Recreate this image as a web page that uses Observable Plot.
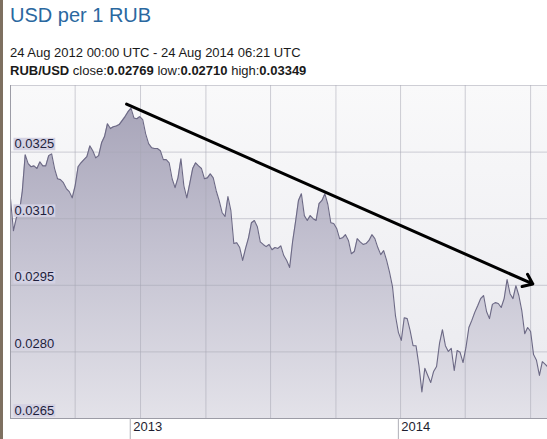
<!DOCTYPE html>
<html><head><meta charset="utf-8">
<script src="https://cdn.jsdelivr.net/npm/d3@7"></script>
<script src="https://cdn.jsdelivr.net/npm/@observablehq/plot@0.6"></script>
<style>
html,body{margin:0;padding:0;background:#fff;width:547px;height:439px;overflow:hidden;font-family:"Liberation Sans",Arial,sans-serif;}
#strip{position:absolute;left:0;top:0;width:3px;height:439px;background:#7e7060;}
#title{position:absolute;left:10px;top:4.6px;font-size:20px;line-height:20px;color:#2a68a0;white-space:nowrap;}
.sub{position:absolute;left:10px;font-size:13px;line-height:13px;color:#1a1a1a;white-space:nowrap;}
#chart{position:absolute;left:0;top:80px;width:547px;height:359px;}
</style></head><body>
<div id="strip"></div>
<div id="title">USD per 1 RUB</div>
<div class="sub" style="top:46px">24 Aug 2012 00:00 UTC - 24 Aug 2014 06:21 UTC</div>
<div class="sub" style="top:64px"><b>RUB/USD</b> close:<b>0.02769</b> low:<b>0.02710</b> high:<b>0.03349</b></div>
<div id="chart"></div>
<script>
// Series: RUB/USD rate, sampled every 4 days starting at startDate
const startDate = "2012-07-22";
const stepDays = 4;
const rate = [
0.03145,0.03073,0.03102,0.03114,0.03161,0.03244,0.03224,0.03217,0.03219,0.03213,
0.03228,0.03219,0.03219,0.03242,0.03246,0.03213,0.03190,0.03188,0.03181,0.03168,
0.03161,0.03147,0.03174,0.03217,0.03226,0.03233,0.03240,0.03264,0.03253,0.03237,
0.03242,0.03271,0.03285,0.03314,0.03303,0.03307,0.03309,0.03312,0.03321,0.03330,
0.03341,0.03349,0.03327,0.03325,0.03330,0.03323,0.03291,0.03269,0.03260,0.03258,
0.03258,0.03253,0.03233,0.03233,0.03226,0.03190,0.03170,0.03192,0.03235,0.03174,
0.03147,0.03179,0.03213,0.03226,0.03219,0.03213,0.03190,0.03192,0.03201,0.03192,
0.03163,0.03141,0.03114,0.03105,0.03150,0.03118,0.03044,0.03046,0.03035,0.03006,
0.03033,0.03057,0.03091,0.03096,0.03082,0.03048,0.03042,0.03037,0.03042,0.03030,
0.03035,0.03033,0.03039,0.03017,0.03006,0.02990,0.03048,0.03093,0.03141,0.03156,
0.03107,0.03096,0.03107,0.03100,0.03096,0.03134,0.03141,0.03156,0.03132,0.03091,
0.03089,0.03078,0.03055,0.03057,0.03064,0.03051,0.03021,0.03026,0.03055,0.03048,
0.03042,0.03044,0.03051,0.03064,0.03055,0.03035,0.03019,0.03028,0.03006,0.02979,
0.02947,0.02882,0.02844,0.02826,0.02877,0.02875,0.02848,0.02814,0.02814,0.02769,
0.02710,0.02763,0.02747,0.02731,0.02756,0.02767,0.02819,0.02850,0.02814,0.02801,
0.02808,0.02758,0.02803,0.02799,0.02776,0.02810,0.02855,0.02871,0.02889,0.02904,
0.02920,0.02927,0.02891,0.02875,0.02907,0.02911,0.02909,0.02900,0.02920,0.02963,
0.02931,0.02920,0.02949,0.02927,0.02893,0.02841,0.02855,0.02846,0.02794,0.02781,
0.02747,0.02778,0.02772,0.02765
];
const xDomain = ["2012-07-22", "2014-07-23"];
const yDomain = [0.0265, 0.0340];
const yLabelTicks = [0.0265, 0.0280, 0.0295, 0.0310, 0.0325];
const yGridTicks = [0.0280, 0.0295, 0.0310, 0.0325, 0.0340];
const xGridDates = ["2012-10-18","2013-01-15","2013-04-14","2013-07-11","2013-10-08","2014-01-04","2014-04-02","2014-06-30"];
const yearTicks = ["2013-01-01", "2014-01-01"];
const yearLabels = ["2013", "2014"];
const trendArrow = [{x1: "2012-12-27", y1: 0.03358, x2: "2014-07-03", y2: 0.02953}];

const parse = s => new Date(s + "T00:00:00Z");
const data = rate.map((v, i) => ({date: d3.utcDay.offset(parse(startDate), i * stepDays), rate: v}));
const years = yearTicks.map((d, i) => ({date: parse(d), label: yearLabels[i]}));
const arrows = trendArrow.map(a => ({x1: parse(a.x1), y1: a.y1, x2: parse(a.x2), y2: a.y2}));

const plot = Plot.plot({
  width: 547, height: 359,
  marginLeft: 10, marginRight: 0, marginTop: 5, marginBottom: 21,
  x: {type: "utc", domain: xDomain.map(parse), axis: null},
  y: {domain: yDomain, axis: null},
  style: {background: "transparent", fontFamily: "'Liberation Sans', Arial, sans-serif", fontSize: "13px", overflow: "hidden"},
  marks: [
    Plot.frame({fill: "url(#bgGrad)", stroke: "none"}),
    Plot.areaY(data, {x: "date", y1: yDomain[0], y2: "rate", fill: "url(#areaGrad)"}),
    Plot.ruleX(xGridDates.map(parse), {stroke: "#a8a8b4", strokeOpacity: 0.55}),
    Plot.ruleY(yGridTicks, {stroke: "#a8a8b4", strokeOpacity: 0.55}),
    Plot.lineY(data, {x: "date", y: "rate", stroke: "#6c6985", strokeWidth: 1.1}),
    Plot.ruleX([parse(xDomain[0])], {stroke: "#9c9ca6"}),
    Plot.ruleY([yDomain[0]], {stroke: "#9c9ca6"}),
    Plot.ruleX(years, {x: "date", y1: yDomain[0], y2: yDomain[0], insetBottom: -21, stroke: "#b0b0b8"}),
    Plot.text(years, {x: "date", text: "label", frameAnchor: "bottom", lineAnchor: "top", textAnchor: "start", dx: 3, dy: 3, fill: "#1e1e30"}),
    Plot.text(yLabelTicks, {y: d => d, text: d => d.toFixed(4), frameAnchor: "left", textAnchor: "start", dx: 4, dy: -8, fill: "#1e1e3c"}),
    Plot.arrow(arrows, {x1: "x1", y1: "y1", x2: "x2", y2: "y2", stroke: "#000", strokeWidth: 3, headLength: 5.5, headAngle: 75})
  ]
});
document.getElementById("chart").append(plot);

const y = plot.scale("y");
const yTop = y.apply(yDomain[1]), yBot = y.apply(yDomain[0]);
const svg = d3.select(plot);
const defs = svg.insert("defs", ":first-child");
const bg = defs.append("linearGradient").attr("id", "bgGrad").attr("gradientUnits", "userSpaceOnUse")
  .attr("x1", 0).attr("x2", 0).attr("y1", yTop).attr("y2", yBot);
bg.append("stop").attr("offset", 0).attr("stop-color", "#f9f9fa");
bg.append("stop").attr("offset", 1).attr("stop-color", "#e9e9ee");
const ag = defs.append("linearGradient").attr("id", "areaGrad").attr("gradientUnits", "userSpaceOnUse")
  .attr("x1", 0).attr("x2", 0).attr("y1", yTop).attr("y2", yBot);
ag.append("stop").attr("offset", 0).attr("stop-color", "#a4a1b6");
ag.append("stop").attr("offset", 0.5).attr("stop-color", "#c4c2d1");
ag.append("stop").attr("offset", 1).attr("stop-color", "#e3e2e9");

// label boxes behind y tick labels
const svgRect = plot.getBoundingClientRect();
const boxes = [];
svg.selectAll("text").each(function () {
  if (/^0\.0\d{3}$/.test(this.textContent)) boxes.push(this.getBoundingClientRect());
});
let labelGroup = null;
svg.selectAll("text").each(function () {
  if (!labelGroup && /^0\.0\d{3}$/.test(this.textContent)) {
    let g = this; while (g.parentNode !== plot) g = g.parentNode; labelGroup = g;
  }
});
const boxG = document.createElementNS("http://www.w3.org/2000/svg", "g");
plot.insertBefore(boxG, labelGroup);
boxes.forEach(b => {
  d3.select(boxG).append("rect")
    .attr("x", b.left - svgRect.left - 1).attr("y", b.top - svgRect.top + 1.5)
    .attr("width", b.width + 2).attr("height", b.height - 2.5)
    .attr("fill", "#d3d1e3");
});
</script>
</body></html>
